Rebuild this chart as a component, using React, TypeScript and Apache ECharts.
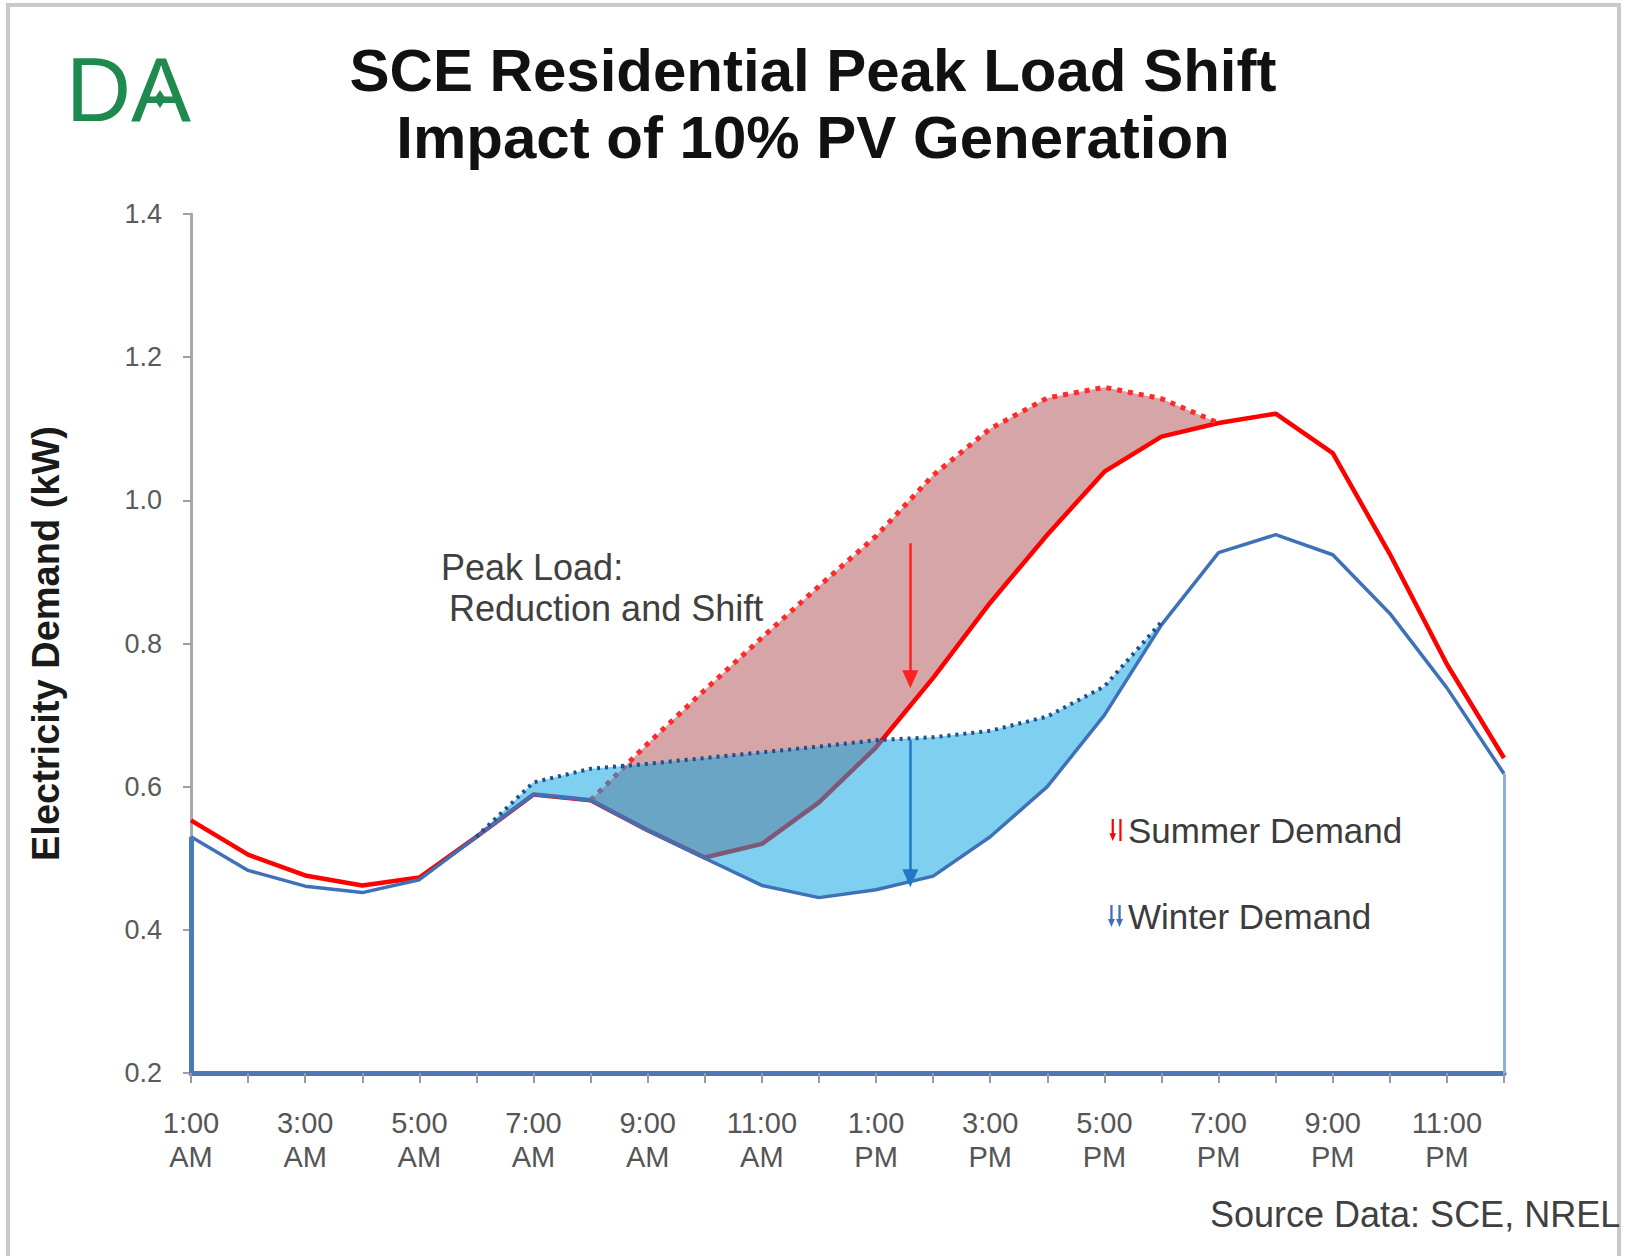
import React, { useEffect, useRef } from "react";
import * as echarts from "echarts";

// ---------- data ----------
const hours = [1, 2, 3, 4, 5, 6, 7, 8, 9, 10, 11, 12, 13, 14, 15, 16, 17, 18, 19, 20, 21, 22, 23, 24];
const summerDemand = [0.553, 0.505, 0.476, 0.462, 0.473, 0.53, 0.589, 0.581, 0.539, 0.501, 0.52, 0.578, 0.655, 0.752, 0.857, 0.952, 1.04, 1.089, 1.108, 1.121, 1.066, 0.925, 0.771, 0.64];
const winterDemand = [0.53, 0.483, 0.461, 0.452, 0.47, 0.53, 0.589, 0.581, 0.539, 0.5, 0.462, 0.445, 0.456, 0.475, 0.53, 0.6, 0.7, 0.826, 0.927, 0.952, 0.924, 0.842, 0.738, 0.618];
const summerOriginalHours = [8, 9, 10, 11, 12, 13, 14, 15, 16, 17, 18, 19];
const summerOriginal = [0.581, 0.66, 0.735, 0.808, 0.88, 0.95, 1.035, 1.1, 1.143, 1.158, 1.142, 1.108];
const winterOriginalHours = [6, 7, 8, 9, 10, 11, 12, 13, 14, 15, 16, 17, 18];
const winterOriginal = [0.53, 0.606, 0.625, 0.632, 0.64, 0.648, 0.656, 0.665, 0.669, 0.678, 0.698, 0.74, 0.83];
const yMin = 0.2;
const yMax = 1.4;
const yStep = 0.2;
const arrowHour = 13.6;
const summerArrow = [0.94, 0.75];
const winterArrow = [0.665, 0.472];

const FONT = "'Liberation Sans', Arial, sans-serif";

const pairs = (xs: number[], ys: number[]) => xs.map((x, i) => [x, ys[i]]);

const hourLabel = (h: number) => {
  if (h % 2 === 0) return "";
  if (h < 12) return `${h}:00\nAM`;
  if (h === 12) return "12:00\nPM";
  if (h < 24) return `${h - 12}:00\nPM`;
  return "12:00\nAM";
};

function band(name: string, xs: number[], upper: number[], lower: number[], fill: string, z: number) {
  return {
    type: "custom",
    name,
    z,
    silent: true,
    data: [[xs[0], upper[0]]],
    renderItem: (_params: any, api: any) => {
      const top = xs.map((h, i) => api.coord([h, upper[i]]));
      const bottom = xs.map((h) => api.coord([h, lower[hours.indexOf(h)]])).reverse();
      return { type: "polygon", shape: { points: top.concat(bottom) }, style: { fill } };
    },
  };
}

const summerIcon = "path://M2,0 L4,0 L4,13 L6,13 L3,20 L0,13 L2,13 Z M9,0 L11,0 L11,20 L9,20 Z";
const winterIcon = "path://M2,0 L4,0 L4,12 L6,12 L3,19 L0,12 L2,12 Z M9,0 L11,0 L11,12 L13,12 L10,19 L7,12 L9,12 Z";

export default function App() {
  const ref = useRef<HTMLDivElement>(null);
  useEffect(() => {
    const chart = echarts.init(ref.current!, null, { renderer: "svg" });
    const option: any = {
      animation: false,
      backgroundColor: "#ffffff",
      textStyle: { fontFamily: FONT },
      grid: { left: 191, right: 134, top: 214, bottom: 183, containLabel: false },
      legend: {
        data: [
          { name: "Summer Demand", icon: summerIcon },
          { name: "Winter Demand", icon: winterIcon },
        ],
        orient: "vertical",
        left: 1108,
        top: 810,
        padding: 0,
        itemGap: 46,
        itemWidth: 15,
        itemHeight: 22,
        selectedMode: false,
        textStyle: { fontSize: 35, color: "#3c3c3c", fontFamily: FONT, lineHeight: 40 },
      },
      xAxis: {
        type: "value",
        min: 1,
        max: 24,
        interval: 1,
        axisLine: { onZero: false, lineStyle: { color: "#4a78b8", width: 5 } },
        axisTick: { show: true, length: 10, lineStyle: { color: "#9a9a9a", width: 2 } },
        axisLabel: { formatter: hourLabel, fontSize: 29, lineHeight: 34, color: "#555555", margin: 33, fontFamily: FONT },
        splitLine: { show: false },
      },
      yAxis: {
        type: "value",
        min: yMin,
        max: yMax,
        interval: yStep,
        name: "Electricity Demand (kW)",
        nameLocation: "middle",
        nameRotate: 90,
        nameGap: 126,
        nameTextStyle: { fontSize: 38, fontWeight: "bold", color: "#1a1a1a", fontFamily: FONT },
        axisLine: { show: true, lineStyle: { color: "#a3a9b3", width: 3 } },
        axisTick: { show: true, length: 8, lineStyle: { color: "#a0a0a0", width: 2 } },
        axisLabel: { formatter: (v: number) => v.toFixed(1), fontSize: 27, color: "#5a5a5a", margin: 29, fontFamily: FONT },
        splitLine: { show: false },
      },
      series: [
        band("Summer reduction", summerOriginalHours, summerOriginal, summerDemand, "#d5a5a7", 1),
        {
          type: "line",
          name: "Summer Demand",
          z: 2,
          data: pairs(hours, summerDemand),
          symbol: "none",
          color: "#ff0000",
          lineStyle: { color: "#ff0000", width: 4.5 },
        },
        {
          type: "line",
          name: "Summer Demand (without PV)",
          z: 2,
          data: pairs(summerOriginalHours, summerOriginal),
          symbol: "none",
          lineStyle: { color: "#ff2a2a", width: 5, type: [5, 6] },
          markLine: {
            silent: true,
            symbol: ["none", "triangle"],
            symbolSize: [16, 18],
            label: { show: false },
            lineStyle: { color: "#ff2020", width: 2.5, type: "solid" },
            data: [[{ coord: [arrowHour, summerArrow[0]] }, { coord: [arrowHour, summerArrow[1]] }]],
          },
        },
        band("Winter shift", winterOriginalHours, winterOriginal, winterDemand, "rgba(13,166,227,0.53)", 3),
        {
          type: "line",
          name: "Winter Demand",
          z: 4,
          data: pairs(hours, winterDemand),
          symbol: "none",
          color: "#3e71b8",
          lineStyle: { color: "#3e71b8", width: 3.5 },
          markLine: {
            silent: true,
            symbol: ["none", "none"],
            label: { show: false },
            data: [
              [
                { coord: [hours[0], yMin], lineStyle: { color: "#4a7bbd", width: 5, type: "solid" } },
                { coord: [hours[0], winterDemand[0]] },
              ],
              [
                { coord: [hours[hours.length - 1], yMin], lineStyle: { color: "#8fb0dc", width: 3, type: "solid" } },
                { coord: [hours[hours.length - 1], winterDemand[winterDemand.length - 1]] },
              ],
            ],
          },
        },
        {
          type: "line",
          name: "Winter Demand (without PV)",
          z: 4,
          data: pairs(winterOriginalHours, winterOriginal),
          symbol: "none",
          lineStyle: { color: "#1f4e8c", width: 4, type: [3, 5] },
          markLine: {
            silent: true,
            symbol: ["none", "triangle"],
            symbolSize: [16, 18],
            label: { show: false },
            lineStyle: { color: "#1f78c8", width: 2.5, type: "solid" },
            data: [[{ coord: [arrowHour, winterArrow[0]] }, { coord: [arrowHour, winterArrow[1]] }]],
          },
        },
      ],
      graphic: [
        {
          type: "rect",
          shape: { x: 8, y: 5, width: 1611, height: 1320 },
          style: { fill: "none", stroke: "#c9c9c9", lineWidth: 4 },
          silent: true,
        },
        {
          type: "text",
          x: 813,
          y: 70,
          style: { text: "SCE Residential Peak Load Shift", fontSize: 60, fontWeight: "bold", fontFamily: FONT, fill: "#111111", align: "center", verticalAlign: "middle" },
        },
        {
          type: "text",
          x: 813,
          y: 137,
          style: { text: "Impact of 10% PV Generation", fontSize: 60, fontWeight: "bold", fontFamily: FONT, fill: "#111111", align: "center", verticalAlign: "middle" },
        },
        {
          type: "text",
          x: 66,
          y: 90,
          style: { text: "DA", fontSize: 90, fontFamily: FONT, fill: "#1f8a4d", align: "left", verticalAlign: "middle" },
        },
        {
          type: "polygon",
          shape: { points: [[160, 90], [166, 99], [160, 108], [154, 99]] },
          style: { fill: "#1f8a4d" },
        },
        {
          type: "text",
          x: 441,
          y: 567,
          style: { text: "Peak Load:", fontSize: 36, fontFamily: FONT, fill: "#404040", align: "left", verticalAlign: "middle" },
        },
        {
          type: "text",
          x: 449,
          y: 608,
          style: { text: "Reduction and Shift", fontSize: 36, fontFamily: FONT, fill: "#404040", align: "left", verticalAlign: "middle" },
        },
        {
          type: "text",
          x: 1210,
          y: 1214,
          style: { text: "Source Data: SCE, NREL", fontSize: 36, fontFamily: FONT, fill: "#404040", align: "left", verticalAlign: "middle" },
        },
      ],
    };
    chart.setOption(option);
    return () => chart.dispose();
  }, []);
  return (
    <div
      ref={ref}
      style={{ position: "absolute", left: 0, top: 0, width: 1638, height: 1256, background: "#ffffff" }}
    />
  );
}
